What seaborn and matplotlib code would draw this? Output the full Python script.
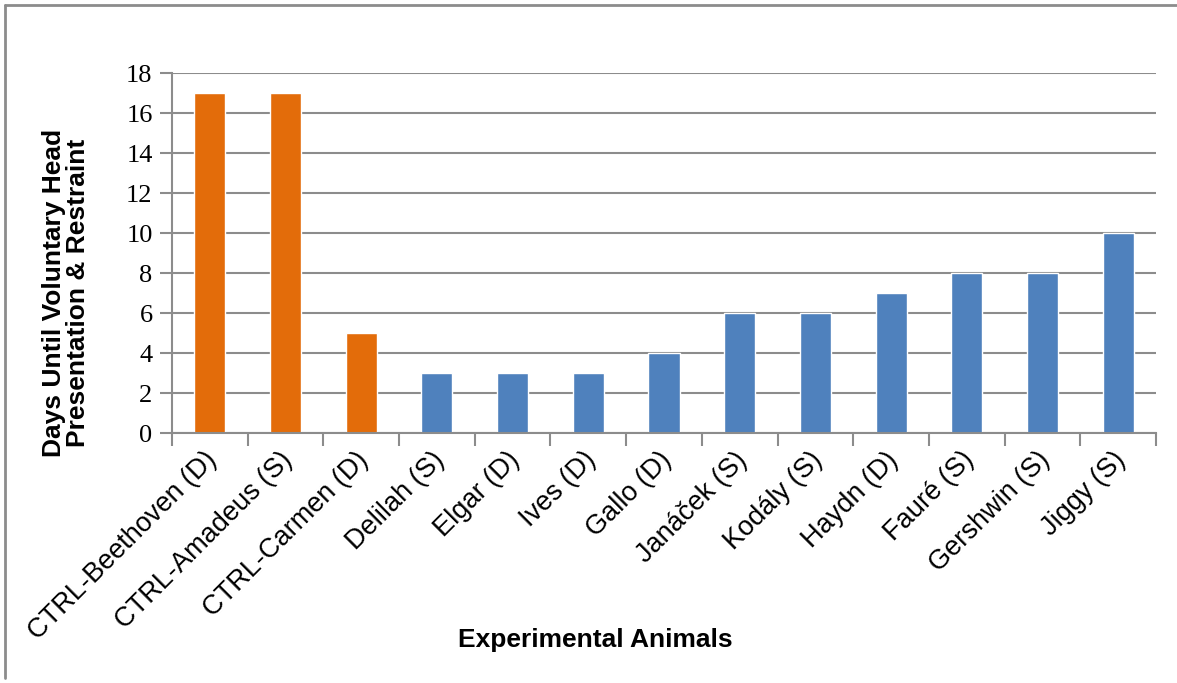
import matplotlib
matplotlib.use("Agg")
import matplotlib.pyplot as plt
import matplotlib.transforms as mtransforms
from matplotlib.lines import Line2D
import seaborn as sns
import pandas as pd

animals = ["CTRL-Beethoven (D)", "CTRL-Amadeus (S)", "CTRL-Carmen (D)", "Delilah (S)",
           "Elgar (D)", "Ives (D)", "Gallo (D)", "Janáček (S)", "Kodály (S)",
           "Haydn (D)", "Fauré (S)", "Gershwin (S)", "Jiggy (S)"]
days = [17, 17, 5, 3, 3, 3, 4, 6, 6, 7, 8, 8, 10]
groups = ["Control"] * 3 + ["Experimental"] * 10
palette = {"Control": "#E36C0A", "Experimental": "#4F81BD"}

df = pd.DataFrame({"animal": animals, "days": days, "group": groups})

sns.set_theme(style="white")
plt.rcParams["font.family"] = ["Liberation Sans", "DejaVu Sans"]

fig = plt.figure(figsize=(11.77, 6.83), dpi=100)
ax = fig.add_axes([172 / 1177, 1 - 433 / 683, (1156 - 172) / 1177, (433 - 73) / 683])

sns.barplot(data=df, x="animal", y="days", hue="group", palette=palette,
            dodge=False, width=0.41, legend=False, ax=ax, saturation=1)

grid_c = "#8c8c8c"
ax.set_ylim(0, 18)
ax.set_xlim(-0.5, len(animals) - 0.5)
ax.set_yticks(range(0, 19, 2))
ax.yaxis.grid(True, color=grid_c, linewidth=1.5)
ax.set_axisbelow(True)
for s in ["top", "right"]:
    ax.spines[s].set_visible(False)
for s in ["left", "bottom"]:
    ax.spines[s].set_color(grid_c)
    ax.spines[s].set_linewidth(1.5)

ax.tick_params(axis="y", which="major", direction="out", length=9, width=1.5,
               color=grid_c, left=True, pad=5)
ax.set_yticklabels([str(v) for v in range(0, 19, 2)],
                   fontfamily="Liberation Serif", fontsize=19, color="black")

# category boundary ticks on the x axis
ax.set_xticks([i - 0.5 for i in range(len(animals) + 1)], minor=True)
ax.tick_params(axis="x", which="minor", direction="out", length=9, width=1.5,
               color=grid_c, bottom=True)
ax.tick_params(axis="x", which="major", length=0, pad=10)
ax.set_xticks(range(len(animals)))
ax.set_xticklabels(animals, rotation=45, ha="right", rotation_mode="anchor",
                   fontsize=19.5, color="black")
nudge = mtransforms.ScaledTranslation(-6 / 100, 0, fig.dpi_scale_trans)
for lbl in ax.get_xticklabels():
    lbl.set_transform(lbl.get_transform() + nudge)

ax.set_xlabel("Experimental Animals", fontsize=19, fontweight="bold", color="black")
ax.set_ylabel("Days Until Voluntary Head\nPresentation & Restraint", fontsize=19,
              fontweight="bold", color="black", linespacing=1.0)
ax.xaxis.set_label_coords((595 - 172) / (1156 - 172), -(628 - 433) / (433 - 73))
ax.yaxis.set_label_coords(-(172 - 90) / (1156 - 172), (433 - 293) / (433 - 73))

# outer chart frame
fig.add_artist(Line2D([5 / 1177, 5 / 1177], [1 - 5 / 683, 1 - 678 / 683],
                      transform=fig.transFigure, color="#8c8c8c", linewidth=2))
fig.add_artist(Line2D([5 / 1177, 1.0], [1 - 5 / 683, 1 - 5 / 683],
                      transform=fig.transFigure, color="#8c8c8c", linewidth=2))

fig.savefig("out.png", dpi=100)
